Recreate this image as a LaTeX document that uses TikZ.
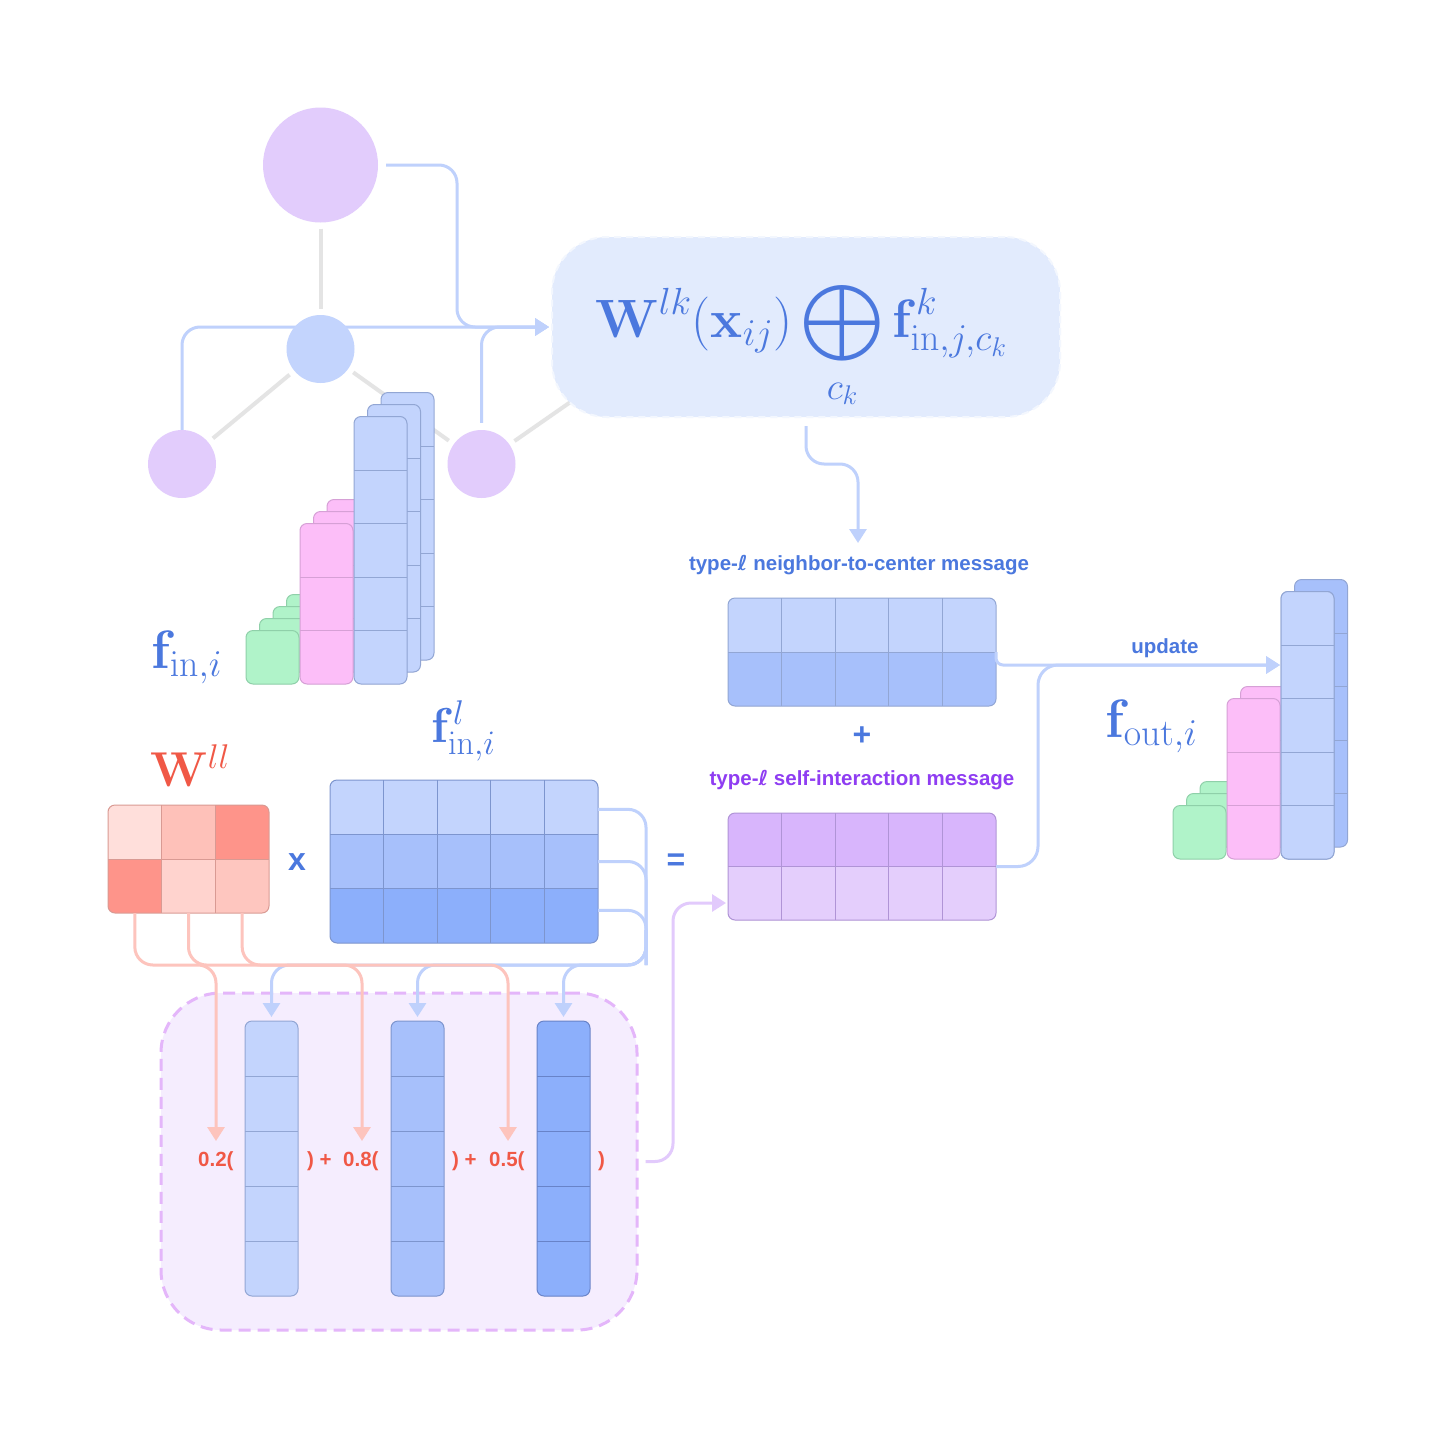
\RequirePackage{fix-cm}
\documentclass[tikz,border=0pt]{standalone}
\usepackage{amsmath}
\DeclareFontShape{OMX}{cmex}{m}{n}{<->cmex10}{}
\usepackage[no-math]{fontspec}
\setsansfont{Liberation Sans}
\newfontfamily\symfont{DejaVu Sans}
\usepackage{xcolor}
\usepackage{tikz}
\usetikzlibrary{positioning,arrows.meta,calc}
\pgfdeclarelayer{back}
\pgfsetlayers{back,main}

\definecolor{cellA}{RGB}{195,212,253}
\definecolor{cellB}{RGB}{167,192,251}
\definecolor{cellC}{RGB}{140,175,251}
\definecolor{cellline}{RGB}{146,166,212}
\definecolor{cellline2}{RGB}{125,149,206}
\definecolor{cellline3}{RGB}{104,131,200}
\definecolor{nodepurple}{RGB}{226,204,252}
\definecolor{connblue}{RGB}{191,209,252}
\definecolor{graphgray}{RGB}{228,228,228}
\definecolor{wfill}{RGB}{226,235,253}
\definecolor{textblue}{RGB}{75,120,222}
\definecolor{textpurple}{RGB}{143,61,242}
\definecolor{textred}{RGB}{240,88,70}
\definecolor{connpink}{RGB}{253,196,189}
\definecolor{connpurple}{RGB}{226,202,252}
\definecolor{pinkcell}{RGB}{252,190,248}
\definecolor{pinkline}{RGB}{214,160,214}
\definecolor{greencell}{RGB}{176,243,201}
\definecolor{greenline}{RGB}{143,208,169}
\definecolor{violetA}{RGB}{216,181,252}
\definecolor{violetB}{RGB}{228,206,252}
\definecolor{violetline}{RGB}{176,148,214}
\definecolor{boxfill}{RGB}{245,237,254}
\definecolor{boxdash}{RGB}{228,182,250}
\definecolor{redA}{RGB}{255,223,219}
\definecolor{redB}{RGB}{254,193,185}
\definecolor{redC}{RGB}{254,148,138}
\definecolor{redD}{RGB}{255,211,206}
\definecolor{redE}{RGB}{254,198,191}
\definecolor{redline}{RGB}{217,154,147}

% node, columns, rows, row colours (the last one runs on), line colour
\newcommand{\cellbox}[5]{%
  \begin{scope}
    \clip[rounded corners=7pt] (#1.north west) rectangle (#1.south east);
    \foreach \rowcol [count=\r from 0] in {#4}
      \fill[\rowcol] ($(#1.north west)!{\r/#3}!(#1.south west)$) rectangle (#1.south east);
    \foreach \ci in {1,...,#2}
      \draw[#5,line width=.8pt] ($(#1.north west)!{\ci/#2}!(#1.north east)$) -- ($(#1.south west)!{\ci/#2}!(#1.south east)$);
    \foreach \rj in {1,...,#3}
      \draw[#5,line width=.8pt] ($(#1.north west)!{\rj/#3}!(#1.south west)$) -- ($(#1.north east)!{\rj/#3}!(#1.south east)$);
  \end{scope}
  \draw[#5,line width=1pt,rounded corners=7pt] (#1.north west) rectangle (#1.south east);}

% name, left x, bottom y, cells, layers, colour, line colour
\newcommand{\stack}[7]{%
  \foreach \k in {#5,...,1}{%
    \node[cellnode,minimum width=53pt,minimum height={#4*53.5pt},anchor=south west] (#1\k) at ({#2+(\k-1)*13.5},{#3-(\k-1)*12}) {};
    \cellbox{#1\k}{1}{#4}{#6}{#7}}}

\tikzset{cellnode/.style={inner sep=0pt,outer sep=0pt}}

\begin{document}
\begin{tikzpicture}[x=1pt,y=-1pt,
  conn/.style={draw=connblue,line width=3pt,rounded corners=18pt},
  arr/.style={-{Triangle[length=14pt,width=17pt]}},
  graphline/.style={draw=graphgray,line width=4pt,shorten <=6pt,shorten >=6pt},
  graphdot/.style={circle,inner sep=0pt,fill=nodepurple},
  lbl/.style={font=\sffamily\bfseries\fontsize{20.5}{24}\selectfont,text=textblue,inner sep=0pt},
  sign/.style={font=\sffamily\bfseries\fontsize{32}{36}\selectfont,text=textblue,inner sep=0pt},
  bigmath/.style={font=\fontsize{54}{60}\selectfont,text=textblue,inner sep=0pt,anchor=base west}]
\useasboundingbox (0,0) rectangle (1456,1440);

% graph
\node[graphdot,minimum size=115pt] (topnode) at (320.5,165) {};
\node[graphdot,fill=cellA,minimum size=68pt] (centernode) at (320.5,349) {};
\node[graphdot,minimum size=68pt] (leftnode) at (182,464) {};
\node[graphdot,minimum size=68pt] (rightnode) at (481.5,464) {};
\coordinate (hidden) at (605,378);

\node[fill=wfill,draw=wfill!40!white,line width=2pt,dash pattern=on 7pt off 5pt,rounded corners=55pt,
      minimum width=508pt,minimum height=180pt] (wbox) at (806,327) {};
\node[bigmath] (wform) at (595,337) {$\displaystyle\mathbf{W}^{lk}(\mathbf{x}_{ij})\bigoplus_{c_k}\mathbf{f}^{k}_{\mathrm{in},j,c_k}$};

\begin{pgfonlayer}{back}
  \fill[white] (0,0) rectangle (1456,1440);
  \draw[graphline] (topnode) -- (centernode);
  \draw[graphline] (centernode) -- (leftnode);
  \draw[graphline] (centernode) -- (rightnode);
  \draw[graphline] (rightnode) -- (hidden);
  \draw[conn,arr,shorten >=2pt] ([xshift=8pt]topnode.east) -| ($(wbox.west)+(-94,0)$) -- (wbox.west);
  \draw[conn,arr,shorten >=2pt] (leftnode.north) |- (wbox.west);
  \draw[conn,arr,shorten >=2pt] ([yshift=7pt]rightnode.north) |- (wbox.west);
\end{pgfonlayer}

% input features
\stack{fing}{246}{684}{1}{4}{greencell}{greenline}
\stack{finp}{300}{684}{3}{3}{pinkcell}{pinkline}
\stack{finb}{354}{684}{5}{3}{cellA}{cellline}
\node[bigmath] (finlab) at (151,668) {$\mathbf{f}_{\mathrm{in},i}$};

% messages
\coordinate (nbin) at (858,543);
\draw[conn,arr] ([yshift=-8pt]wbox.south) |- ($(nbin)+(0,-79)$) -- (nbin);
\node[lbl,anchor=base] (nblab) at (859,570) {type-{\symfont ℓ} neighbor-to-center message};
\node[cellnode,minimum width=268pt,minimum height=108pt] (msgbox) at (862,652) {};
\cellbox{msgbox}{5}{2}{cellA,cellB}{cellline}
\node[sign] (plussign) at (862,736) {+};
\node[lbl,anchor=base,text=textpurple] (silab) at (862,785) {type-{\symfont ℓ} self-interaction message};
\node[cellnode,minimum width=268pt,minimum height=107pt] (selfbox) at (862,866.5) {};
\cellbox{selfbox}{5}{2}{violetA,violetB}{violetline}

% output features
\stack{foutg}{1173}{859}{1}{3}{greencell}{greenline}
\stack{foutp}{1227}{859}{3}{2}{pinkcell}{pinkline}
\stack{foutbb}{1281}{859}{5}{2}{cellB}{cellline}
\stack{foutb}{1281}{859}{5}{1}{cellA}{cellline}
\node[bigmath] (foutlab) at (1105,737) {$\mathbf{f}_{\mathrm{out},i}$};
\coordinate (upd) at (1280,665);
\draw[conn,arr,rounded corners=7pt] (msgbox.east) |- (upd);
\draw[conn,arr,rounded corners=20pt] (selfbox.east) -| ($(upd)+(-242,0)$) -- (upd);
\node[lbl,anchor=base] (updlab) at (1165,653) {update};

% self-interaction product
\node[bigmath,font=\fontsize{49}{55}\selectfont,text=textred] (wlllab) at (150,786) {$\mathbf{W}^{ll}$};
\node[bigmath,font=\fontsize{49}{55}\selectfont] (fllab) at (431,742) {$\mathbf{f}^{l}_{\mathrm{in},i}$};
\node[cellnode,minimum width=161pt,minimum height=108pt] (wllbox) at (188.5,859) {};
\begin{scope}
  \clip[rounded corners=7pt] (wllbox.north west) rectangle (wllbox.south east);
  \foreach \cx/\cy/\cc in {0/0/redA,1/0/redB,2/0/redC,0/1/redC,1/1/redD,2/1/redE}
    \fill[\cc] ($(wllbox.north west)+({\cx*161/3},{\cy*54})$) rectangle ++({161/3},54);
  \draw[redline,line width=.8pt] (wllbox.west) -- (wllbox.east);
  \foreach \cx in {1,2}
    \draw[redline,line width=.8pt] ($(wllbox.north west)!{\cx/3}!(wllbox.north east)$) -- ($(wllbox.south west)!{\cx/3}!(wllbox.south east)$);
\end{scope}
\draw[redline,line width=1pt,rounded corners=7pt] (wllbox.north west) rectangle (wllbox.south east);
\node[sign] (timesign) at (297,862) {x};
\node[cellnode,minimum width=268pt,minimum height=163pt] (flbox) at (464,861.5) {};
\cellbox{flbox}{5}{3}{cellA,cellB,cellC}{cellline2}
\node[sign] (eqsign) at (676,862) {=};

% weighted sum
\node[fill=boxfill,draw=boxdash,line width=3pt,dash pattern=on 12pt off 7pt,rounded corners=60pt,
      minimum width=476pt,minimum height=337pt] (bbox) at (399,1161.5) {};
\foreach \xx/\bodycol/\edgecol [count=\k] in {245/cellA/cellline,391/cellB/cellline2,537/cellC/cellline3}{
  \node[cellnode,minimum width=53pt,minimum height=275pt,anchor=north west] (col\k) at (\xx,1021) {};
  \cellbox{col\k}{1}{5}{\bodycol}{\edgecol}
  \coordinate (pk\k) at (\xx-29,1141);}
\coordinate (fork) at (646,965);
\foreach \f in {0.18,0.5,0.8}
  \draw[conn] ($(flbox.north east)!\f!(flbox.south east)$) -| (fork);
\foreach \k in {1,2,3}
  \draw[conn,arr] ($(fork)+(0,-35)$) |- ($(col\k.north)+(0,-56)$) -- ([yshift=4pt]col\k.north);
\foreach \k in {1,2,3}
  \draw[conn,draw=connpink,arr] ($(wllbox.south west)!{(2*\k-1)/6}!(wllbox.south east)$) |- ($(pk\k)+(0,-176)$) -- (pk\k);
\foreach \t/\xx [count=\k] in {0.2(/198,) +/307,0.8(/343,) +/452,0.5(/489,)/598}
  \node[lbl,text=textred,anchor=base west] (coef\k) at (\xx,1166) {\t};
\coordinate (selfin) at (726,903);
\draw[conn,draw=connpurple,arr] ([xshift=7pt]bbox.east) -| ($(selfin)+(-53,0)$) -- (selfin);
\end{tikzpicture}
\end{document}
